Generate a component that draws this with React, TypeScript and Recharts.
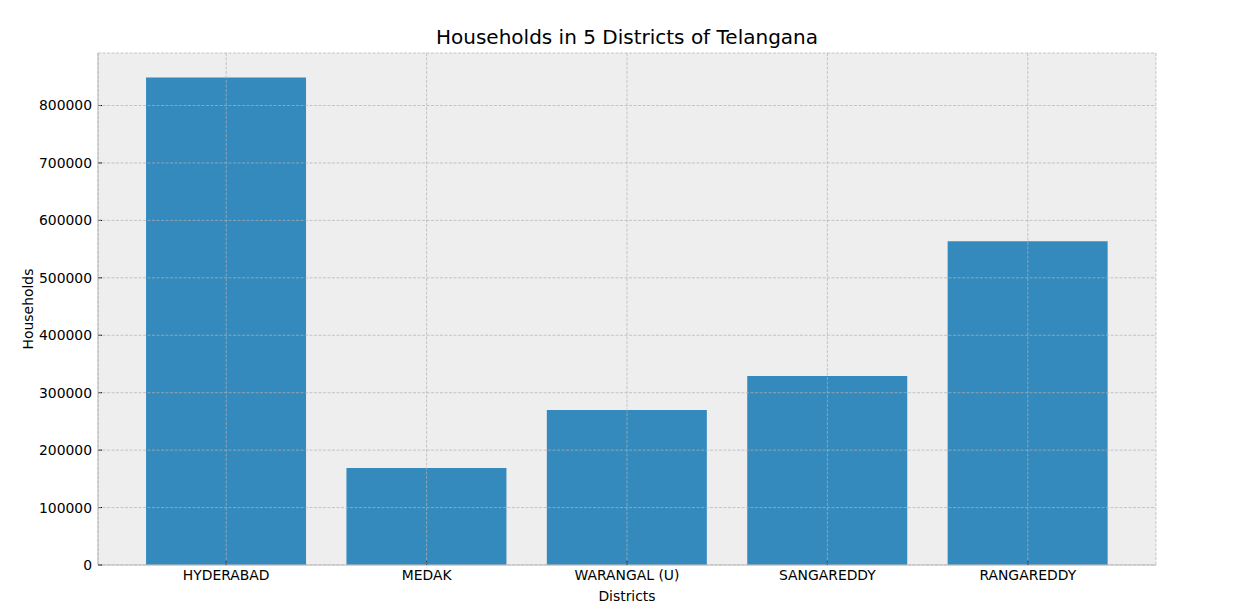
import { Bar, BarChart, CartesianGrid, XAxis, YAxis } from "recharts";

const districts = ["HYDERABAD", "MEDAK", "WARANGAL (U)", "SANGAREDDY", "RANGAREDDY"];
const households = [849000, 168800, 269700, 328900, 563900];
const yTicks = [0, 100000, 200000, 300000, 400000, 500000, 600000, 700000, 800000];

const data = districts.map((name, i) => ({ name, households: households[i] }));

const FONT = "'DejaVu Sans', sans-serif";
const tickStyle = { fill: "#000", fontFamily: FONT, fontSize: 13.9 };

export default function App() {
	return (
		<div style={{ position: "absolute", left: 0, top: 0, width: 1233, height: 612, background: "#fff" }}>
			<div
				style={{
					position: "absolute",
					left: 98,
					width: 1058,
					top: 25,
					lineHeight: "24px",
					textAlign: "center",
					fontFamily: FONT,
					fontSize: 20,
					color: "#000",
				}}
			>
				Households in 5 Districts of Telangana
			</div>
			<BarChart
				width={1233}
				height={612}
				data={data}
				margin={{ top: 53, right: 77, bottom: 0, left: 0 }}
				barCategoryGap="10%"
			>
				<CartesianGrid fill="#eeeeee" stroke="none" />
				<XAxis
					dataKey="name"
					height={47}
					padding={{ left: 28, right: 28 }}
					tick={tickStyle}
					tickSize={-4}
					tickMargin={9}
					tickLine={{ stroke: "#000" }}
					axisLine={{ stroke: "#bcbcbc" }}
					label={{ value: "Districts", position: "insideBottom", offset: 11, fill: "#000", fontFamily: FONT, fontSize: 13.9 }}
				/>
				<XAxis
					xAxisId="top"
					dataKey="name"
					orientation="top"
					height={0}
					tick={false}
					tickLine={false}
					axisLine={{ stroke: "#bcbcbc" }}
				/>
				<YAxis
					width={98}
					domain={[0, 891450]}
					ticks={yTicks}
					allowDataOverflow
					tick={tickStyle}
					tickSize={-4}
					tickMargin={10}
					tickLine={{ stroke: "#000" }}
					axisLine={{ stroke: "#bcbcbc" }}
					label={{
						value: "Households",
						angle: -90,
						position: "insideLeft",
						offset: 28,
						fill: "#000",
						fontFamily: FONT,
						fontSize: 13.9,
						style: { textAnchor: "middle" },
					}}
				/>
				<YAxis
					yAxisId="right"
					orientation="right"
					width={0}
					tick={false}
					tickLine={false}
					axisLine={{ stroke: "#bcbcbc" }}
				/>
				<Bar dataKey="households" fill="#348ABD" isAnimationActive={false} />
				<CartesianGrid
					stroke="#b2b2b2"
					strokeWidth={0.7}
					strokeDasharray="3 1.5"
					fill="none"
					zIndex={1000}
				/>
			</BarChart>
		</div>
	);
}
